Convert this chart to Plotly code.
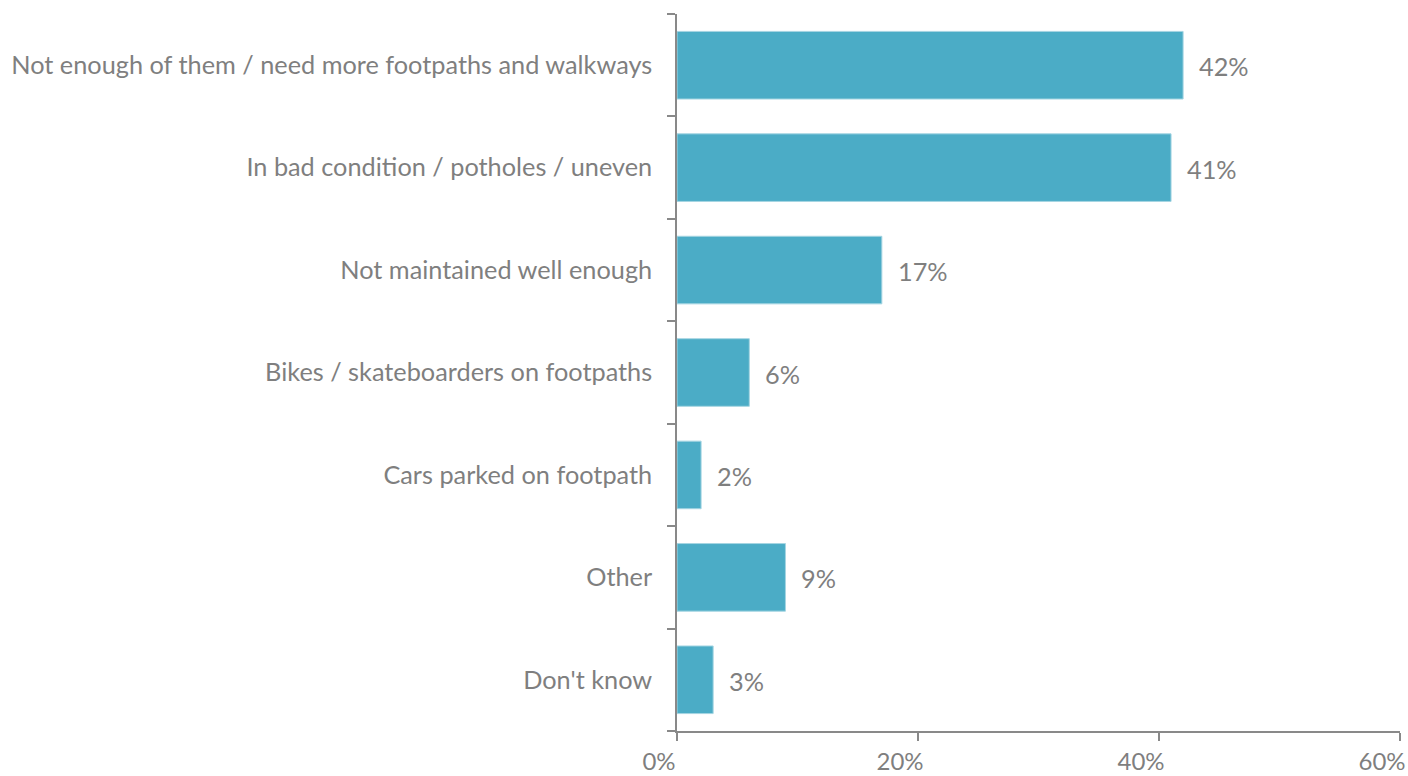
import plotly.graph_objects as go

categories = [
    "Not enough of them / need more footpaths and walkways",
    "In bad condition / potholes / uneven",
    "Not maintained well enough",
    "Bikes / skateboarders on footpaths",
    "Cars parked on footpath",
    "Other",
    "Don't know",
]
values = [42, 41, 17, 6, 2, 9, 3]
x_ticks = [0, 20, 40, 60]
x_tick_labels = ["0%", "20%", "40%", "60%"]

BAR = "#4BACC6"
GREY = "#7F7F7F"
AXIS = "#898989"
FONT = "Lato"
SIZE = 25.3

fig = go.Figure(
    go.Bar(
        x=values,
        y=categories,
        orientation="h",
        marker=dict(color=BAR, line=dict(color="#A5D5E2", width=1)),
        width=0.66,
        hoverinfo="x+y",
    )
)

# value labels placed just past each bar end
for cat, v in zip(categories, values):
    fig.add_annotation(
        x=v,
        y=cat,
        text=f"{v}%",
        showarrow=False,
        xanchor="left",
        yanchor="middle",
        xshift=14,
        yshift=-1,
        font=dict(family=FONT, size=SIZE, color=GREY),
    )

fig.update_layout(
    width=1408,
    height=776,
    margin=dict(l=677, r=8, t=14, b=45),
    paper_bgcolor="white",
    plot_bgcolor="white",
    showlegend=False,
    font=dict(family=FONT, size=SIZE, color=GREY),
)

fig.update_yaxes(
    categoryorder="array",
    categoryarray=categories[::-1],
    automargin=False,
    showline=True,
    linecolor=AXIS,
    linewidth=1.5,
    ticks="outside",
    tickson="boundaries",
    ticklen=8,
    tickcolor=AXIS,
    tickwidth=1.5,
    showgrid=False,
    ticklabelstandoff=18,
    tickfont=dict(family=FONT, size=SIZE, color=GREY),
)

fig.update_xaxes(
    range=[0, 60],
    tickvals=x_ticks,
    ticktext=x_tick_labels,
    automargin=False,
    showline=True,
    linecolor=AXIS,
    linewidth=1.5,
    ticks="outside",
    ticklen=8,
    tickcolor=AXIS,
    tickwidth=1.5,
    showgrid=False,
    zeroline=False,
    ticklabelshift=-18,
    ticklabelstandoff=0,
    tickfont=dict(family=FONT, size=24, color=GREY),
)

fig.write_html("out.html")
